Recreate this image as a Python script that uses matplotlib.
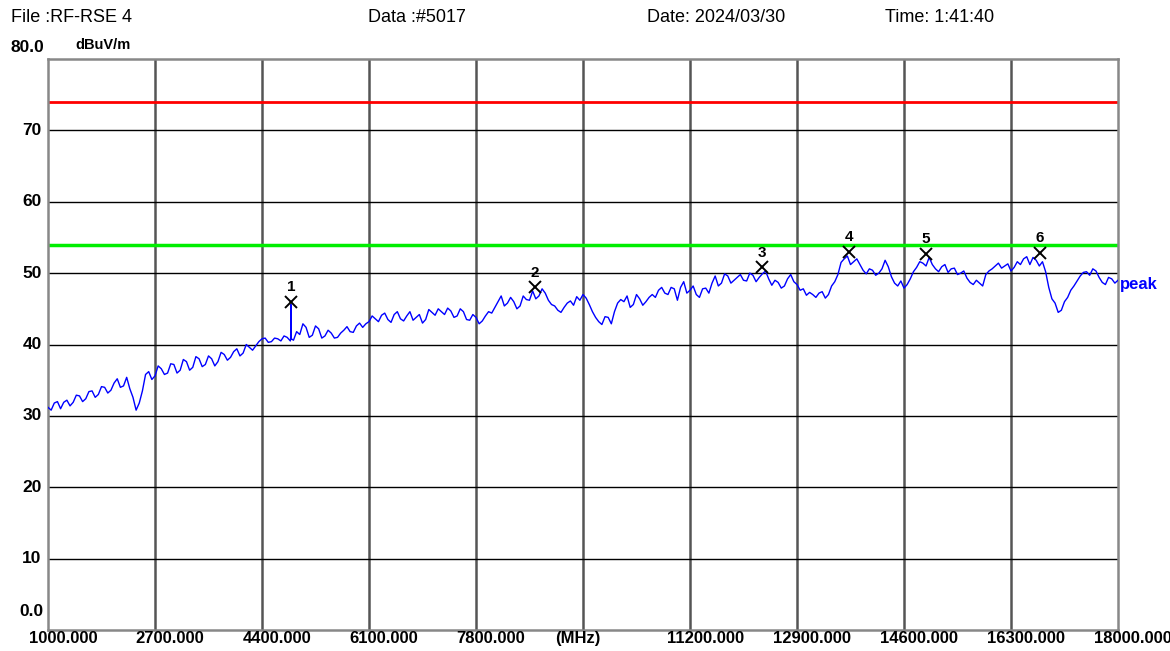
import numpy as np
import matplotlib
matplotlib.use("Agg")
import matplotlib.pyplot as plt

# ---- data ---------------------------------------------------------------
freq_start, freq_stop, freq_step = 1000, 18000, 100   # MHz
# level at 1000, 1100, ... 18000 MHz (dBuV/m)
level = [
    31.2, 31.8, 31.0, 32.2, 31.9, 32.8, 32.4, 33.5, 33.0, 34.0,   # 1000-1900
    33.6, 35.2, 34.2, 33.8, 30.8, 33.5, 36.2, 35.6, 36.6, 36.0,   # 2000-2900
    37.2, 36.4, 37.6, 36.8, 38.0, 37.2, 38.0, 37.6, 38.6, 38.2,   # 3000-3900
    39.4, 38.8, 39.6, 39.8, 40.8, 40.3, 40.9, 40.5, 41.0, 40.6,   # 4000-4900
    41.4, 42.4, 41.3, 42.2, 41.2, 41.6, 41.0, 42.0, 41.8, 42.6,   # 5000-5900
    42.4, 43.2, 43.6, 44.1, 43.5, 44.2, 43.6, 44.0, 43.4, 44.2,   # 6000-6900
    43.5, 44.5, 45.0, 44.2, 44.7, 44.0, 44.6, 43.4, 43.8, 43.3,   # 7000-7900
    44.6, 45.2, 46.8, 45.8, 46.0, 45.4, 46.3, 47.5, 46.8, 47.2,   # 8000-8900
    45.6, 44.8, 45.2, 46.1, 46.7, 47.0, 45.6, 43.8, 42.8, 43.8,   # 9000-9900
    44.6, 46.3, 46.8, 45.6, 46.4, 46.0, 47.0, 47.6, 47.2, 48.0,   # 10000-10900
    46.2, 48.8, 47.6, 47.0, 47.8, 47.2, 49.6, 48.6, 49.6, 49.0,   # 11000-11900
    49.8, 48.9, 49.7, 49.4, 50.3, 48.3, 48.7, 48.2, 49.8, 48.4,   # 12000-12900
    47.8, 47.3, 46.6, 47.4, 47.0, 48.8, 51.5, 52.4, 51.6, 51.2,   # 13000-13900
    49.9, 50.4, 50.0, 51.8, 49.5, 48.2, 47.9, 49.2, 50.8, 51.4,   # 14000-14900
    52.2, 50.6, 50.9, 50.1, 50.7, 50.0, 49.3, 48.4, 48.6, 49.8,   # 15000-15900
    50.6, 51.4, 51.0, 50.3, 51.6, 52.0, 51.2, 51.8, 51.6, 48.0,   # 16000-16900
    45.8, 44.8, 46.6, 48.2, 49.6, 50.2, 50.6, 49.4, 48.4, 49.2,   # 17000-17900
    49.0,                                                         # 18000
]
# level at 1050, 1150, ... 17950 MHz (the jitter between the points above)
level_mid = [
    30.8, 32.0, 31.9, 31.4, 32.9, 32.0, 33.4, 32.6, 34.1, 33.2,   # 1050-1950
    34.6, 34.0, 35.4, 32.6, 31.8, 35.8, 35.1, 37.0, 35.8, 37.3,   # 2050-2950
    36.0, 37.9, 36.4, 38.3, 36.9, 38.4, 37.0, 38.9, 37.8, 39.0,   # 3050-3950
    38.4, 40.0, 39.2, 40.4, 40.9, 40.4, 40.8, 41.2, 40.5, 41.8,   # 4050-4950
    42.9, 41.0, 42.6, 40.9, 42.0, 40.9, 41.6, 42.5, 41.7, 43.0,   # 5050-5950
    42.9, 44.0, 43.2, 44.4, 43.1, 44.6, 43.3, 44.6, 43.8, 43.0,   # 6050-6950
    44.9, 44.1, 44.6, 45.1, 43.8, 45.0, 43.5, 44.2, 42.9, 44.0,   # 7050-7950
    44.4, 46.0, 45.4, 46.6, 45.0, 46.8, 46.2, 46.4, 47.8, 46.2,   # 8050-8950
    45.4, 44.5, 45.8, 45.5, 46.2, 46.5, 44.6, 43.2, 43.9, 42.9,   # 9050-9950
    45.8, 46.0, 45.2, 47.0, 45.5, 46.6, 46.6, 48.0, 47.0, 47.8,   # 10050-10950
    48.0, 47.2, 48.2, 46.6, 47.9, 48.6, 48.2, 49.9, 48.6, 49.4,   # 11050-11950
    49.0, 50.0, 48.8, 49.9, 49.2, 49.0, 47.9, 49.2, 48.8, 47.6,   # 12050-12950
    46.9, 47.0, 47.2, 46.5, 48.2, 49.8, 52.0, 51.2, 52.0, 50.4,   # 13050-13950
    50.6, 49.7, 50.6, 50.9, 48.6, 48.9, 48.4, 50.2, 51.6, 51.0,   # 14050-14950
    51.2, 50.2, 51.2, 50.6, 49.8, 50.3, 48.7, 49.0, 48.2, 50.3,   # 15050-15950
    51.0, 50.7, 51.3, 50.8, 51.2, 52.3, 52.2, 51.0, 50.2, 46.4,   # 16050-16950
    44.5, 46.0, 47.6, 48.9, 50.1, 49.7, 50.3, 48.7, 49.4, 48.6,   # 17050-17950
]
# narrow spurious spike at marker 1
spike_freq = [4855, 4860, 4865]
spike_level = [40.8, 45.6, 40.8]

marker_id = ["1", "2", "3", "4", "5", "6"]
marker_freq = [4860, 8740, 12350, 13720, 14950, 16760]
marker_level = [46.0, 48.0, 50.8, 53.0, 52.7, 52.8]

limit_red = 74.0
limit_green = 54.0

xticks = [1000, 2700, 4400, 6100, 7800, 9500, 11200, 12900, 14600, 16300, 18000]
xlabels = ["1000.000", "2700.000", "4400.000", "6100.000", "7800.000", "(MHz)",
           "11200.000", "12900.000", "14600.000", "16300.000", "18000.000"]
yticks = [0, 10, 20, 30, 40, 50, 60, 70, 80]
ylabels = ["0.0", "10", "20", "30", "40", "50", "60", "70", "80.0"]

# ---- merge trace ---------------------------------------------------------
freq = np.arange(freq_start, freq_stop + 1, freq_step, dtype=float)
freq_mid = freq[:-1] + freq_step / 2
f_all = np.concatenate([freq, freq_mid, spike_freq])
l_all = np.concatenate([level, level_mid, spike_level])
order = np.argsort(f_all, kind="stable")
f_all, l_all = f_all[order], l_all[order]

plt.rcParams["font.family"] = ["Liberation Sans", "DejaVu Sans"]

W, H = 1170, 651
fig = plt.figure(figsize=(W / 100, H / 100), dpi=100)
ax = fig.add_axes([48 / W, 1 - 630 / H, (1118 - 48) / W, (630 - 59) / H])
ax.set_xlim(freq_start, freq_stop)
ax.set_ylim(0, 80)

# grid: vertical grey, horizontal black
for x in xticks[1:-1]:
    ax.axvline(x, color="#555555", lw=1.8, zorder=1)
for y in yticks[1:-1]:
    ax.axhline(y, color="black", lw=1.0, zorder=1)
for s in ax.spines.values():
    s.set_color("#888888")
    s.set_linewidth(1.8)

ax.axhline(limit_red, color="#ff0000", lw=2.0, zorder=2)
ax.axhline(limit_green, color="#00ee00", lw=2.5, zorder=2)

ax.plot(f_all, l_all, color="#0000ff", lw=1.0, zorder=3)

ax.plot(marker_freq, marker_level, ls="none", marker="x", ms=8, mew=1.4,
        color="black", zorder=4)
for mid, mf, ml in zip(marker_id, marker_freq, marker_level):
    ax.text(mf, ml + 1.1, mid, ha="center", va="bottom", fontsize=11,
            fontweight="bold", color="black", zorder=5)

ax.text(freq_stop + 30, level[-1] - 0.6, "peak", ha="left", va="center",
        fontsize=12, fontweight="bold", color="#0000ff", clip_on=False)

ax.set_xticks([])
ax.set_yticks([])

# tick labels as the analyser draws them
for x, lab in zip(xticks, xlabels):
    dx = -80 if lab == "(MHz)" else 240
    ax.text(x + dx, -1.15, lab, ha="center", va="center", fontsize=12,
            fontweight="bold", clip_on=False)
for y, lab in zip(yticks, ylabels):
    if y == 80:
        fig.text(44 / W, 1 - 47 / H, lab, ha="right", va="center",
                 fontsize=12.5, fontweight="bold")
    elif y == 0:
        fig.text(44 / W, 1 - 611 / H, lab, ha="right", va="center",
                 fontsize=12.5, fontweight="bold")
    else:
        ax.text(freq_start - 100, y, lab, ha="right", va="center",
                fontsize=12.5, fontweight="bold", clip_on=False)

fig.text(75 / W, 1 - 45 / H, "dBuV/m", ha="left", va="center",
         fontsize=10.5, fontweight="bold")

# header
hdr_y = 1 - 17 / H
fig.text(11 / W, hdr_y, "File :RF-RSE 4", ha="left", va="center", fontsize=13)
fig.text(368 / W, hdr_y, "Data :#5017", ha="left", va="center", fontsize=13)
fig.text(647 / W, hdr_y, "Date: 2024/03/30", ha="left", va="center", fontsize=13)
fig.text(885 / W, hdr_y, "Time: 1:41:40", ha="left", va="center", fontsize=13)

fig.savefig("out.png", dpi=100)
